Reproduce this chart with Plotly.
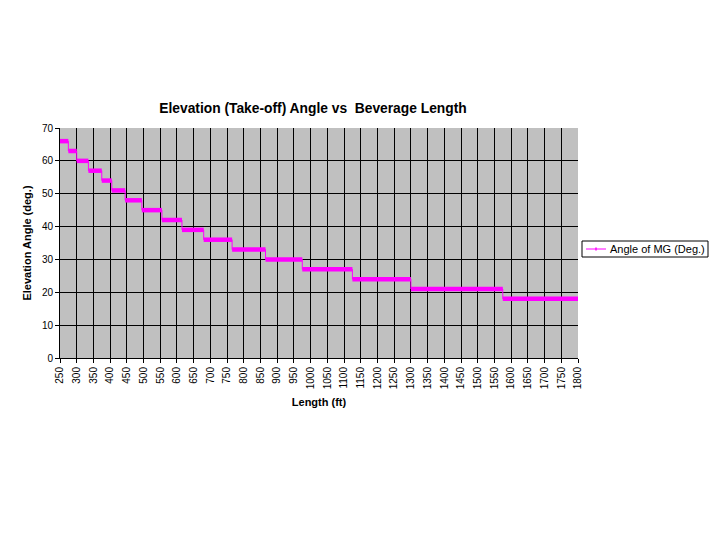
import plotly.graph_objects as go

# Step data: each level (deg) holds from previous end to this end length (ft)
start_length = 250
step_end_length = [275, 300, 335, 375, 405, 445, 495, 555, 615, 680, 765, 865, 975, 1125, 1300, 1575, 1800]
angle_deg = [66, 63, 60, 57, 54, 51, 48, 45, 42, 39, 36, 33, 30, 27, 24, 21, 18]
x_ticks = list(range(250, 1801, 50))
y_ticks = list(range(0, 71, 10))
series_name = "Angle of MG (Deg.)"

FONT = "Liberation Sans, Arial, sans-serif"
MAG = "#FF00FF"

# thin connecting line (steps)
xs_thin, ys_thin = [], []
prev = start_length
for end, a in zip(step_end_length, angle_deg):
    xs_thin += [prev, end]
    ys_thin += [a, a]
    prev = end

# thick horizontal bars
xs_bar, ys_bar = [], []
prev = start_length
for end, a in zip(step_end_length, angle_deg):
    xs_bar += [prev, end, None]
    ys_bar += [a, a, None]
    prev = end

fig = go.Figure()
fig.add_trace(go.Scatter(x=xs_thin, y=ys_thin, mode="lines", name=series_name,
                         line=dict(color=MAG, width=1), showlegend=False, hoverinfo="skip"))
fig.add_trace(go.Scatter(x=xs_bar, y=ys_bar, mode="lines", name=series_name,
                         line=dict(color=MAG, width=4.5), showlegend=False))

# plot area in pixels: x 60..578, y 128..358
L, R, T, B = 60, 578, 128, 358
def px(x):
    return (x - L) / (R - L)
def py(y):
    return (B - y) / (B - T)

# legend box drawn to match the original compact legend
shapes = [
    dict(type="rect", xref="paper", yref="paper", x0=px(582), x1=px(708), y0=py(257), y1=py(241),
         line=dict(color="black", width=1), fillcolor="white", layer="above"),
    dict(type="line", xref="paper", yref="paper", x0=px(586), x1=px(606), y0=py(249), y1=py(249),
         line=dict(color=MAG, width=1), layer="above"),
    dict(type="line", xref="paper", yref="paper", x0=px(596), x1=px(596), y0=py(247.5), y1=py(250.5),
         line=dict(color=MAG, width=1.5), layer="above"),
]
annotations = [
    dict(text=series_name, xref="paper", yref="paper", x=px(608), y=py(249),
         xanchor="left", yanchor="middle", showarrow=False,
         font=dict(family=FONT, size=11, color="black")),
]

fig.update_layout(
    width=720, height=540,
    paper_bgcolor="white", plot_bgcolor="#C0C0C0",
    margin=dict(l=L, r=720 - R, t=T, b=540 - B, autoexpand=False),
    font=dict(family=FONT, size=10, color="black"),
    title=dict(text="<b>Elevation (Take-off) Angle vs  Beverage Length</b>",
               x=313/720, xanchor="center", y=1-108/540, yanchor="middle",
               font=dict(family=FONT, size=13.8, color="black")),
    showlegend=False,
    shapes=shapes,
    annotations=annotations,
)
fig.update_xaxes(range=[250, 1800], tickmode="array", tickvals=x_ticks,
                 ticktext=[str(v) for v in x_ticks], tickangle=-90,
                 showgrid=True, gridcolor="black", gridwidth=1,
                 showline=True, linecolor="black", linewidth=1,
                 ticks="outside", ticklen=4, tickcolor="black",
                 tickfont=dict(family=FONT, size=10),
                 title=dict(text="<b>Length (ft)</b>", font=dict(family=FONT, size=11), standoff=10),
                 zeroline=False, automargin=False)
fig.update_yaxes(range=[0, 70], tickmode="array", tickvals=y_ticks,
                 showgrid=True, gridcolor="black", gridwidth=1,
                 showline=True, linecolor="black", linewidth=1,
                 ticks="outside", ticklen=4, tickcolor="black",
                 tickfont=dict(family=FONT, size=10),
                 title=dict(text="<b>Elevation Angle (deg.)</b>", font=dict(family=FONT, size=11), standoff=8),
                 zeroline=False, automargin=False)

fig.write_html("out.html", config={"displayModeBar": False},
               post_script="document.body.style.margin='0';")
